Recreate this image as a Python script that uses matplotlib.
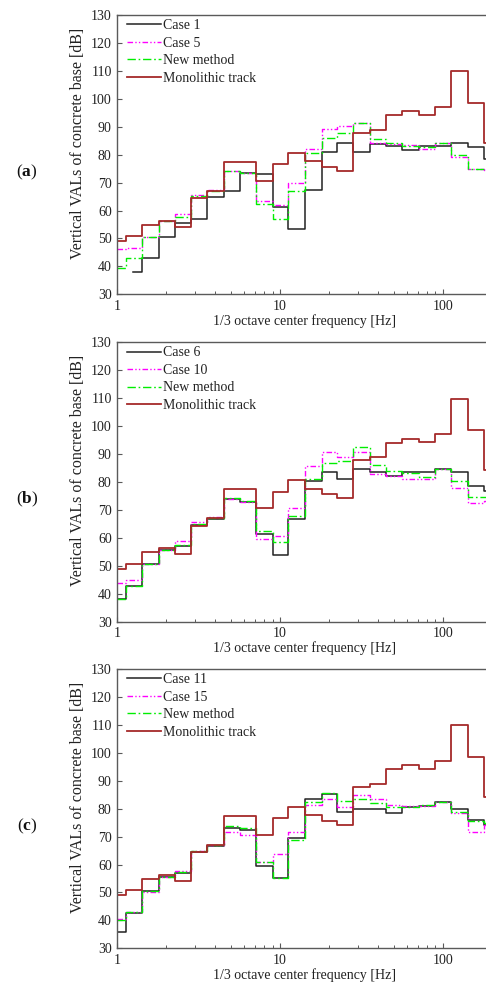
import numpy as np
import matplotlib
matplotlib.use("Agg")
import matplotlib.pyplot as plt
from matplotlib.ticker import FixedLocator, NullFormatter, FixedFormatter

plt.rcParams['font.family'] = ['Liberation Serif', 'DejaVu Serif']
plt.rcParams['mathtext.fontset'] = 'custom'
plt.rcParams['mathtext.rm'] = 'Liberation Serif'
plt.rcParams['mathtext.bf'] = 'Liberation Serif:bold'

freqs = [1, 1.25, 1.6, 2, 2.5, 3.15, 4, 5, 6.3, 8, 10, 12.5, 16, 20, 25, 31.5,
         40, 50, 63, 80, 100, 125, 160, 200]

monolithic = [49.0, 50.8, 54.8, 56.4, 54.1, 64.4, 67.1, 77.5, 77.3, 70.5, 76.5, 80.6,
              77.6, 75.7, 74.3, 87.7, 89.0, 94.1, 95.5, 94.3, 97.2, 109.8, 98.5, 84.2]

case1 = [np.nan, 38.1, 42.9, 50.4, 55.4, 57.1, 64.9, 66.9, 73.5, 73.0, 61.2, 53.4,
         67.4, 80.8, 84.1, 80.9, 83.8, 83.0, 81.8, 83.0, 83.0, 84.3, 82.8, 78.4]
case5 = [46.1, 46.4, 50.6, 56.2, 58.8, 65.7, 67.3, 74.2, 73.3, 63.5, 61.8, 70.0,
         82.2, 89.3, 90.2, 91.4, 84.0, 83.8, 83.3, 82.0, 84.2, 79.2, 74.7, 74.4]
new_a = [39.5, 43.0, 50.6, 56.2, 57.7, 65.1, 67.0, 74.0, 73.5, 62.5, 57.0, 66.9,
         80.7, 86.0, 87.6, 91.5, 85.6, 84.0, 83.2, 82.8, 84.0, 80.0, 74.7, 74.4]

case6 = [38.0, 42.7, 50.5, 55.6, 57.0, 64.5, 66.9, 73.8, 72.9, 61.5, 53.8, 66.8,
         80.4, 83.6, 81.0, 84.6, 83.4, 82.2, 83.6, 83.4, 84.7, 83.4, 78.7, 76.7]
case10 = [43.9, 44.9, 50.5, 55.8, 58.7, 65.6, 67.3, 73.8, 72.9, 59.5, 60.6, 70.7,
          85.8, 90.7, 89.0, 90.7, 83.0, 82.1, 81.2, 81.2, 84.7, 77.9, 72.5, 73.2]
new_b = [38.0, 42.7, 50.5, 55.6, 57.3, 64.9, 67.0, 74.3, 73.2, 62.5, 58.5, 67.7,
         81.2, 86.8, 87.6, 92.4, 85.9, 83.9, 83.3, 81.8, 84.7, 80.4, 74.7, 74.7]

case11 = [35.8, 42.7, 50.5, 55.6, 57.0, 64.6, 66.8, 73.1, 72.5, 59.4, 55.0, 69.5,
          83.3, 85.2, 78.9, 79.8, 79.8, 78.5, 80.6, 81.0, 82.4, 80.0, 75.9, 74.1]
case15 = [40.6, 43.1, 50.1, 55.6, 57.6, 64.8, 66.9, 71.5, 70.4, 60.8, 63.8, 71.8,
          81.2, 83.6, 80.7, 84.8, 83.3, 81.2, 80.9, 81.0, 82.4, 78.3, 71.5, 74.0]
new_c = [40.1, 43.0, 50.5, 55.6, 57.4, 64.9, 67.0, 73.7, 72.9, 60.8, 55.0, 68.9,
         82.4, 85.7, 82.7, 83.3, 81.9, 80.6, 80.6, 81.2, 82.4, 78.9, 75.5, 74.7]

panels = [
    ("a", "Case 1", case1, "Case 5", case5, new_a),
    ("b", "Case 6", case6, "Case 10", case10, new_b),
    ("c", "Case 11", case11, "Case 15", case15, new_c),
]

W, H = 486, 984
fig = plt.figure(figsize=(W / 100, H / 100), dpi=100)

left_px, right_px = 117.3, 491.7
tops = [15.0, 342.3, 669.0]
heights = [279.3, 279.3, 279.3]
plabel_y = [172, 499, 826]

spine_col = '#5a5a5a'
text_col = '#222222'

def step(ax, x, y, **kw):
    x = np.asarray(x, float)
    y = np.asarray(y, float)
    m = ~np.isnan(y)
    ax.plot(x[m], y[m], drawstyle='steps-mid', **kw)

for i, (tag, l1, d1, l2, d2, dn) in enumerate(panels):
    top = tops[i]
    h = heights[i]
    ax = fig.add_axes([left_px / W, 1 - (top + h) / H, (right_px - left_px) / W, h / H])
    step(ax, freqs, d1, color='#222222', lw=1.1, label=l1)
    step(ax, freqs, d2, color='#ff00ff', lw=1.0, linestyle=(0, (4, 1.6, 1, 1.6, 1, 1.6)), label=l2)
    step(ax, freqs, dn, color='#00ee00', lw=1.0, linestyle=(0, (6, 2, 1.2, 2)), label='New method')
    step(ax, freqs, monolithic, color='#a52a2a', lw=1.3, label='Monolithic track')

    ax.set_xscale('log')
    ax.set_xlim(1, 200)
    ax.set_ylim(30, 130)
    ax.set_yticks(np.arange(30, 131, 10))
    ax.xaxis.set_major_locator(FixedLocator([1, 10, 100]))
    ax.xaxis.set_major_formatter(FixedFormatter(['1', '10', '100']))
    minors = [k * d for d in (1, 10, 100) for k in range(2, 10)]
    ax.xaxis.set_minor_locator(FixedLocator(minors))
    ax.xaxis.set_minor_formatter(NullFormatter())
    ax.tick_params(which='major', direction='in', length=3.5, width=0.8,
                   colors=spine_col, labelcolor=text_col, labelsize=10, pad=4)
    ax.tick_params(which='minor', direction='in', length=2, width=0.7, colors=spine_col)
    ax.tick_params(axis='y', which='minor', left=False)
    for s in ax.spines.values():
        s.set_color(spine_col)
        s.set_linewidth(1.0)
    ax.set_xlabel('1/3 octave center frequency [Hz]', fontsize=10, color=text_col, labelpad=1)
    ax.set_ylabel('Vertical VALs of concrete base [dB]', fontsize=11.5, color=text_col)
    ax.yaxis.set_label_coords(-0.083, 0.542)
    leg = ax.legend(loc='upper left', bbox_to_anchor=(0.025, 0.985), frameon=False,
                    fontsize=10, handlelength=2.45, handletextpad=0.15,
                    labelspacing=0.32, borderaxespad=0.0, borderpad=0.0)
    for t in leg.get_texts():
        t.set_color(text_col)

    fig.text(27 / W, 1 - plabel_y[i] / H, r'($\mathbf{%s}$)' % tag, fontsize=12.5,
             ha='center', va='center', color='#111111')

fig.savefig('out.png', dpi=100)
